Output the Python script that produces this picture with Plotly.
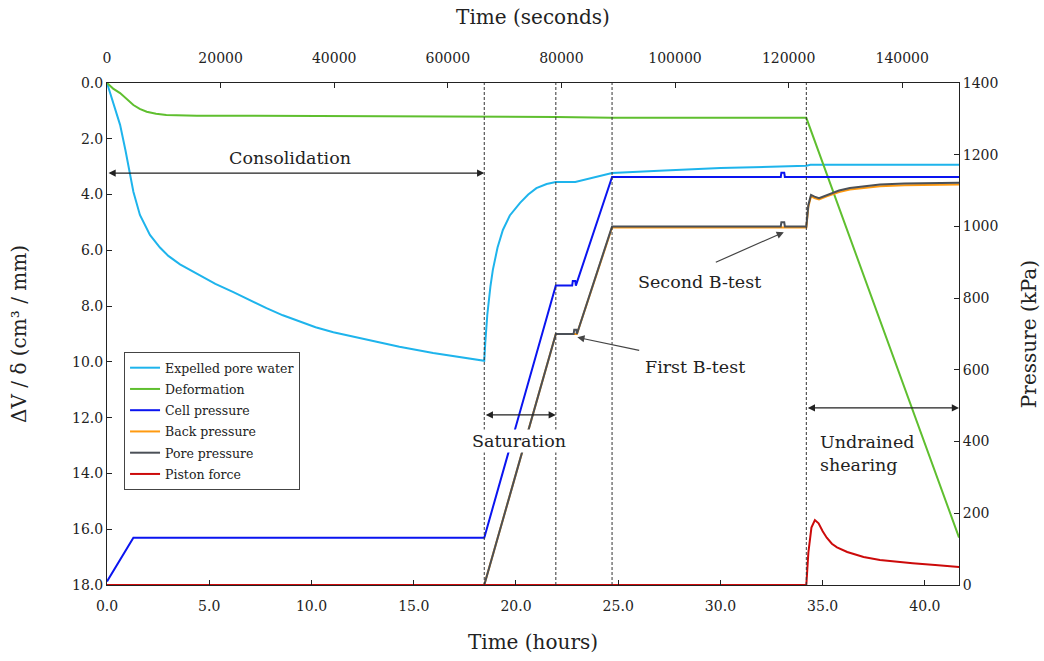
import plotly.graph_objects as go

# ---------------- data (time in hours) ----------------
water_t = [0, 0.3, 0.64, 0.9, 1.13, 1.29, 1.61, 2.1, 2.59, 3.0, 3.57, 4.55, 5.3, 6.18, 7.0, 7.8, 8.6, 9.44,
           10.2, 11.07, 12.7, 14.3, 15.95, 17.6, 18.45, 18.5, 18.6, 18.75, 18.87, 19.1, 19.36, 19.7,
           20.2, 20.6, 21.0, 21.5, 21.95, 22.9, 23.8, 24.7, 27.0, 30.0, 34.2, 34.4, 41.67]
water_v = [0, 0.7, 1.5, 2.4, 3.3, 3.9, 4.73, 5.45, 5.9, 6.2, 6.5, 6.9, 7.2, 7.5, 7.8, 8.07, 8.33, 8.57,
           8.76, 8.94, 9.2, 9.46, 9.68, 9.86, 9.96, 9.3, 8.3, 7.3, 6.7, 5.9, 5.27, 4.75,
           4.3, 4.0, 3.77, 3.62, 3.55, 3.55, 3.38, 3.23, 3.15, 3.05, 2.97, 2.93, 2.93]

def_t = [0, 0.3, 0.64, 1.0, 1.29, 1.6, 1.94, 2.4, 2.9, 4.4, 10.0, 18.45, 21.95, 24.7, 34.2, 41.67]
def_v = [0, 0.2, 0.36, 0.58, 0.79, 0.93, 1.03, 1.1, 1.15, 1.17, 1.18, 1.2, 1.22, 1.25, 1.25, 16.3]

cell_t = [0, 1.29, 18.45, 21.95, 22.75, 22.78, 22.9, 22.93, 24.7, 32.95, 32.98, 33.12, 33.15, 41.67]
cell_p = [10, 132, 132, 835, 835, 848, 848, 835, 1138, 1138, 1150, 1150, 1138, 1138]

back_t = [0, 18.45, 21.95, 22.98, 24.7, 34.2, 34.3, 34.43, 34.6, 34.82, 35.2, 35.8, 36.33, 37.0,
          37.8, 39.0, 40.0, 41.67]
back_p = [0, 0, 700, 700, 997, 997, 1055, 1084, 1079, 1075, 1084, 1096, 1103, 1108,
          1112, 1115, 1116, 1117]

pore_t = [0, 18.45, 21.95, 22.82, 22.85, 22.95, 22.98, 24.7, 32.95, 32.98, 33.12, 33.15, 34.2, 34.3,
          34.43, 34.6, 34.82, 35.2, 35.8, 36.33, 37.0, 37.8, 39.0, 40.0, 41.67]
pore_p = [0, 0, 700, 700, 712, 712, 700, 1000, 1000, 1012, 1012, 1000, 1000, 1060,
          1088, 1083, 1079, 1088, 1100, 1107, 1112, 1117, 1120, 1121, 1122]

piston_t = [0, 34.2, 34.3, 34.45, 34.62, 34.8, 35.0, 35.2, 35.45, 35.7, 36.2, 37.0, 37.8, 38.6, 39.4,
            40.5, 41.67]
piston_p = [0, 0, 90, 160, 181, 172, 150, 132, 115, 105, 92, 78, 70, 65, 61, 56, 50]

stage_bounds = [18.45, 21.95, 24.7, 34.2]
x_range = [0, 41.667]
sec_range = [0, 150000]
left_ticks = [0, 2, 4, 6, 8, 10, 12, 14, 16, 18]
right_ticks = [0, 200, 400, 600, 800, 1000, 1200, 1400]

SERIF = "DejaVu Serif"
TXT = "#222222"

fig = go.Figure()

def add(t, v, name, color, axis, width=2):
    fig.add_trace(go.Scatter(x=t, y=v, name=name, mode="lines", yaxis=axis,
                             line=dict(color=color, width=width), legendgroup=name))

add(water_t, water_v, "Expelled pore water", "#1eb4ec", "y")
add(def_t, def_v, "Deformation", "#5fbf2f", "y")
add(cell_t, cell_p, "Cell pressure", "#0a14f0", "y2")
add(back_t, back_p, "Back pressure", "#ff9a10", "y2")
add(pore_t, pore_p, "Pore pressure", "#4b5057", "y2")
add(piston_t, piston_p, "Piston force", "#cc0a0a", "y2")

# invisible trace to carry the top (seconds) axis
fig.add_trace(go.Scatter(x=sec_range, y=[None, None], xaxis="x2", yaxis="y", mode="lines",
                         showlegend=False, hoverinfo="skip"))

# dashed stage boundaries
for b in stage_bounds:
    fig.add_shape(type="line", xref="x", yref="paper", x0=b, x1=b, y0=0, y1=1,
                  line=dict(color="#333333", width=1, dash="3px,2px"), layer="above")

def darrow(x0, x1, y):
    fig.add_annotation(xref="x", yref="y", axref="x", ayref="y", x=x1, y=y, ax=x0, ay=y,
                       text="", showarrow=True, arrowside="end+start", arrowhead=2,
                       arrowsize=1.2, arrowwidth=1.2, arrowcolor="#222222")

def label(x, y, text, xanchor="center", align="center", bg=None):
    fig.add_annotation(xref="x", yref="y", x=x, y=y, text=text, showarrow=False,
                       xanchor=xanchor, align=align, bgcolor=bg,
                       font=dict(family=SERIF, size=17.5, color=TXT))

darrow(0, 18.45, 3.23)
darrow(18.45, 21.95, 11.9)
darrow(34.2, 41.667, 11.65)

label(8.95, 2.69, "Consolidation")
label(20.15, 12.85, "Saturation", bg="white")
label(34.75, 13.3, "Undrained<br>shearing", xanchor="left", align="left")
label(28.75, 10.18, "First B-test")
label(29.0, 7.13, "Second B-test")

# B-test pointers
fig.add_annotation(xref="x", yref="y", axref="x", ayref="y", x=23.0, y=9.12, ax=26.1, ay=9.6,
                   text="", showarrow=True, arrowhead=2, arrowsize=1.2, arrowwidth=1.2,
                   arrowcolor="#444444")
fig.add_annotation(xref="x", yref="y", axref="x", ayref="y", x=33.1, y=5.35, ax=29.7, ay=6.45,
                   text="", showarrow=True, arrowhead=2, arrowsize=1.2, arrowwidth=1.2,
                   arrowcolor="#444444")

tickfont = dict(family=SERIF, size=14, color=TXT)
titlefont = dict(family=SERIF, size=20, color=TXT)

fig.update_layout(
    width=1044, height=661,
    margin=dict(l=107, r=85, t=83, b=76, autoexpand=False),
    paper_bgcolor="white", plot_bgcolor="white",
    showlegend=True,
    legend=dict(x=0.02, y=0.464, xanchor="left", yanchor="top",
                bgcolor="white", bordercolor="#444444", borderwidth=1,
                font=dict(family=SERIF, size=12.5, color=TXT), tracegroupgap=2,
                itemwidth=30),
    xaxis=dict(range=x_range, dtick=5, tickformat=".1f", showgrid=False, zeroline=False,
               showline=True, linecolor="#222222", linewidth=1, mirror=False, automargin=False,
               ticks="inside", ticklen=5, tickcolor="#222222", tickfont=tickfont,
               ticklabelstandoff=8,
               title=dict(text="Time (hours)", font=titlefont, standoff=22)),
    xaxis2=dict(range=sec_range, dtick=20000, overlaying="x", side="top", anchor="y",
                showgrid=False, zeroline=False, showline=True, linecolor="#222222", linewidth=1,
                ticks="inside", ticklen=5, tickcolor="#222222", tickfont=tickfont,
                tickformat="d", ticklabelstandoff=13, automargin=False,
                title=dict(text="Time (seconds)", font=titlefont, standoff=20)),
    yaxis=dict(range=[18, 0], tickvals=left_ticks, tickformat=".1f", showgrid=False,
               zeroline=False, showline=True, linecolor="#222222", linewidth=1, automargin=False,
               ticks="inside", ticklen=5, tickcolor="#222222", tickfont=tickfont,
               title=dict(text="ΔV / δ (cm³ / mm)", font=titlefont, standoff=40)),
    yaxis2=dict(range=[0, 1400], tickvals=right_ticks, overlaying="y", side="right", anchor="x",
                showgrid=False, zeroline=False, showline=True, linecolor="#222222", linewidth=1,
                ticks="inside", ticklen=5, tickcolor="#222222", tickfont=tickfont, automargin=False,
                title=dict(text="Pressure (kPa)", font=titlefont, standoff=24)),
)

fig.write_html("out.html")
